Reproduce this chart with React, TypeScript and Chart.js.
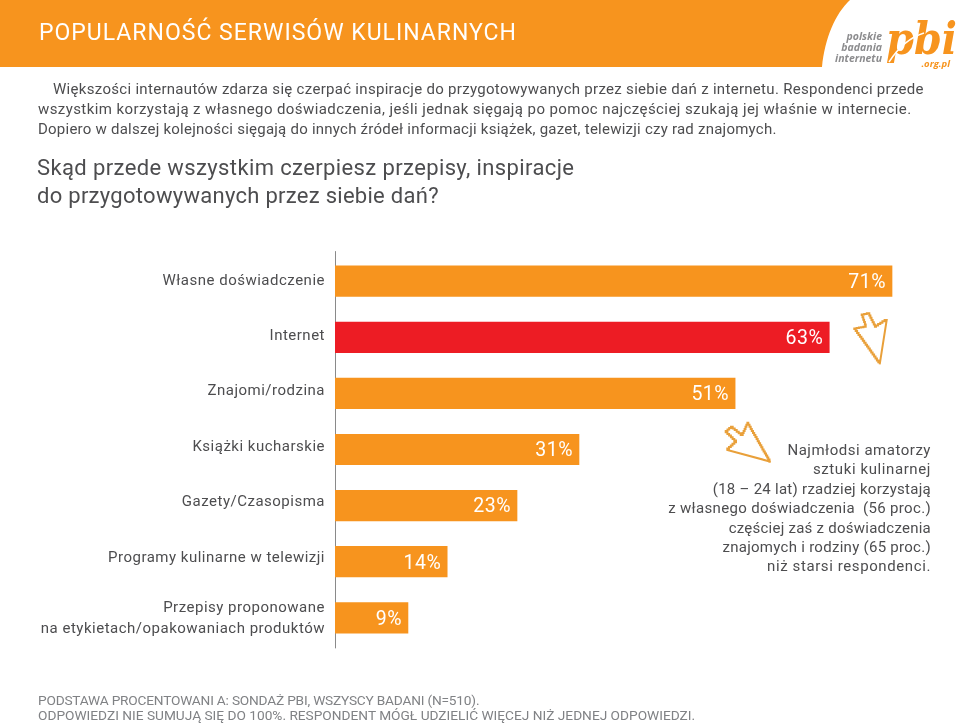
import React, { useEffect, useRef } from "react";
import { Chart, registerables } from "chart.js";

Chart.register(...registerables);

const categories: (string | string[])[] = [
  "Własne doświadczenie",
  "Internet",
  "Znajomi/rodzina",
  "Książki kucharskie",
  "Gazety/Czasopisma",
  "Programy kulinarne w telewizji",
  ["Przepisy proponowane", "na etykietach/opakowaniach produktów"],
];
const shares = [71, 63, 51, 31.1, 23.2, 14.3, 9.3];
const shareLabels = ["71%", "63%", "51%", "31%", "23%", "14%", "9%"];
const barColors = ["#F7941E", "#ED1C24", "#F7941E", "#F7941E", "#F7941E", "#F7941E", "#F7941E"];

const title = "POPULARNOŚĆ SERWISÓW KULINARNYCH";
const intro = [
  "Większości internautów zdarza się czerpać inspiracje do przygotowywanych przez siebie dań z internetu. Respondenci przede",
  "wszystkim korzystają z własnego doświadczenia, jeśli jednak sięgają po pomoc najczęściej szukają jej właśnie w internecie.",
  "Dopiero w dalszej kolejności sięgają do innych źródeł informacji książek, gazet, telewizji czy rad znajomych.",
];
const question = ["Skąd przede wszystkim czerpiesz przepisy, inspiracje", "do przygotowywanych przez siebie dań?"];
const note = [
  "Najmłodsi amatorzy",
  "sztuki kulinarnej",
  "(18 – 24 lat) rzadziej korzystają",
  "z własnego doświadczenia  (56 proc.)",
  "częściej zaś z doświadczenia",
  "znajomych i rodziny (65 proc.)",
  "niż starsi respondenci.",
];
const noteSpacing = [0.52, 0.6, 0.27, 0.33, 0.25, 0.28, 0.6];
const footer = [
  "PODSTAWA PROCENTOWANI A: SONDAŻ PBI, WSZYSCY BADANI (N=510).",
  "ODPOWIEDZI NIE SUMUJĄ SIĘ DO 100%. RESPONDENT MÓGŁ UDZIELIĆ WIĘCEJ NIŻ JEDNEJ ODPOWIEDZI.",
];

const FONT = "Roboto, sans-serif";
const TEXT = "#4d4d4f";
const ICON = "#E9A03A";
// small per-row shift of the axis labels, in pixels, as set in the original layout
const labelShift = [0, -1, -2, -2, -3, -3, 1];

function Line(p: { x: number; y: number; size: number; color?: string; spacing?: number; right?: boolean; weight?: number; children: string }) {
  const base: React.CSSProperties = {
    position: "absolute",
    top: p.y,
    fontFamily: FONT,
    fontSize: p.size,
    lineHeight: "20px",
    height: 20,
    color: p.color ?? TEXT,
    letterSpacing: p.spacing ?? 0,
    whiteSpace: "pre",
    fontWeight: p.weight ?? 400,
  };
  if (p.right) base.right = 960 - p.x;
  else base.left = p.x;
  return <div style={base}>{p.children}</div>;
}

// outline of a pixel-art cursor: edges are drawn as small stairs, except the smooth one
function cursorPath(pts: number[][], smoothEdge: number): string {
  let d = `M${pts[0][0]} ${pts[0][1]}`;
  pts.forEach((a, i) => {
    const b = pts[(i + 1) % pts.length];
    if (i === smoothEdge) {
      d += `L${b[0]} ${b[1]}`;
      return;
    }
    const n = Math.max(1, Math.round(Math.hypot(b[0] - a[0], b[1] - a[1]) / 2.4));
    for (let k = 1; k <= n; k++) {
      const x = a[0] + ((b[0] - a[0]) * k) / n;
      const y = a[1] + ((b[1] - a[1]) * k) / n;
      const py = a[1] + ((b[1] - a[1]) * (k - 1)) / n;
      d += `L${x.toFixed(1)} ${py.toFixed(1)}L${x.toFixed(1)} ${y.toFixed(1)}`;
    }
  });
  return d + "Z";
}

const cursorA = [[879.7, 364.3], [886.7, 320], [876, 326.7], [869.3, 313.3], [861.7, 315], [865.7, 326.7], [854.3, 329]];
const cursorB = [[770.7, 461.7], [748.3, 422.7], [742.7, 435], [732.7, 426.7], [725.7, 432.3], [736, 442.3], [727.3, 450]];

export default function App() {
  const ref = useRef<HTMLCanvasElement>(null);
  useEffect(() => {
    document.body.style.margin = "0";
    const barValueLabels = {
      id: "barValueLabels",
      afterDatasetsDraw(chart: any) {
        const ctx = chart.ctx;
        const meta = chart.getDatasetMeta(0);
        ctx.save();
        ctx.font = `19.5px ${FONT}`;
        ctx.fillStyle = "#ffffff";
        ctx.textAlign = "right";
        ctx.textBaseline = "middle";
        meta.data.forEach((bar: any, i: number) => {
          ctx.fillText(shareLabels[i], bar.x - 6, bar.y + 2);
        });
        ctx.restore();
      },
    };
    const axisLine = {
      id: "axisLine",
      beforeDatasetsDraw(chart: any) {
        const { ctx, chartArea } = chart;
        ctx.save();
        ctx.strokeStyle = "#8a8a8a";
        ctx.lineWidth = 1;
        ctx.beginPath();
        ctx.moveTo(chartArea.left + 0.5, chartArea.top - 2);
        ctx.lineTo(chartArea.left + 0.5, chartArea.bottom + 2.5);
        ctx.stroke();
        ctx.restore();
      },
    };
    const spacing = {
      id: "spacing",
      beforeDraw(chart: any) {
        chart.ctx.letterSpacing = "0.5px";
      },
    };
    const chart = new Chart(ref.current!, {
      type: "bar",
      data: {
        labels: categories as any,
        datasets: [{ data: shares, backgroundColor: barColors, barThickness: 30.5 }],
      },
      options: {
        indexAxis: "y",
        animation: false,
        responsive: false,
        layout: { padding: { top: 253.15, bottom: 78.15, right: 36.6, left: 0 } },
        plugins: { legend: { display: false }, tooltip: { enabled: false } },
        scales: {
          x: { display: false, min: 0, max: 75 },
          y: {
            afterFit(scale: any) {
              scale.width = 335;
              const base = scale.getPixelForTick;
              scale.getPixelForTick = (i: number) => base.call(scale, i) + (labelShift[i] ?? 0);
            },
            border: { display: false },
            grid: { display: false, drawTicks: false },
            ticks: {
              padding: 10,
              color: TEXT,
              autoSkip: false,
              font: { family: FONT, size: 15, lineHeight: 1.35 },
            },
          },
        },
      },
      plugins: [spacing, axisLine, barValueLabels],
    } as any);
    return () => chart.destroy();
  }, []);

  return (
    <div style={{ position: "absolute", left: 0, top: 0, width: 960, height: 724, overflow: "hidden", background: "#fff" }}>
      <canvas ref={ref} width={960} height={724} style={{ position: "absolute", left: 0, top: 0 }} />
      <svg width={960} height={724} style={{ position: "absolute", left: 0, top: 0 }}>
        <path d="M0 0H850C835 14 825 38 822 67H0Z" fill="#F7941E" />
        <path d={cursorPath(cursorA, 0)} fill="none" stroke={ICON} strokeWidth={2} />
        <path d={cursorPath(cursorB, 6)} fill="none" stroke={ICON} strokeWidth={2} />
        <g fontFamily="'Open Sans', sans-serif" fontStyle="italic" fontWeight={700} fontSize={10.5} fill="#8c8c8e" textAnchor="end">
          <text x={882} y={40}>polskie</text>
          <text x={882} y={51}>badania</text>
          <text x={882} y={62}>internetu</text>
        </g>
        <text x={886} y={54} fontFamily="'DejaVu Serif', serif" fontStyle="italic" fontWeight={700} fontSize={44} fill="#F7941E" textLength={71} lengthAdjust="spacingAndGlyphs">pbi</text>
        <path d="M889 62C898 48 908 38 924 33" fill="none" stroke="#fff" strokeWidth={1.5} />
        <text x={950} y={67} fontFamily="'Open Sans', sans-serif" fontStyle="italic" fontWeight={700} fontSize={9.5} fill="#F7941E" textAnchor="end">.org.pl</text>
      </svg>
      <Line x={39} y={23} size={23} color="#fff" spacing={1.0}>{title}</Line>
      <Line x={53} y={79} size={15} spacing={0.3}>{intro[0]}</Line>
      <Line x={38} y={99} size={15} spacing={0.415}>{intro[1]}</Line>
      <Line x={38} y={119} size={15} spacing={0.235}>{intro[2]}</Line>
      <Line x={37} y={158} size={22} spacing={0.38}>{question[0]}</Line>
      <Line x={37} y={186} size={22} spacing={0.28}>{question[1]}</Line>
      {note.map((t, i) => (
        <Line key={i} x={931} y={440 + i * 19.4} size={15} spacing={noteSpacing[i]} right>{t}</Line>
      ))}
      <Line x={38} y={690} size={13.7} color="#808285" spacing={-0.2}>{footer[0]}</Line>
      <Line x={38} y={705} size={13.7} color="#808285" spacing={0}>{footer[1]}</Line>
    </div>
  );
}
